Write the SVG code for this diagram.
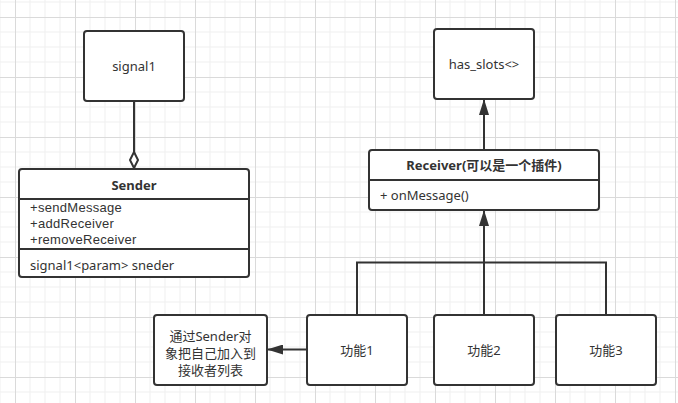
<svg xmlns="http://www.w3.org/2000/svg" width="678" height="403" viewBox="0 0 678 403">
<style>
.box{fill:#fff;stroke:#333;stroke-width:2}
.t{font-family:"Noto Sans","Noto Sans CJK SC",sans-serif;font-size:13px;fill:#333}
.f{font-family:"Liberation Sans","Noto Sans CJK SC",sans-serif;font-size:13px;fill:#333;letter-spacing:0.3px}
.c{text-anchor:middle}
.b{font-weight:bold}
.ln{fill:none;stroke:#333;stroke-width:2}
</style>
<defs>
<pattern id="grid" patternUnits="userSpaceOnUse" x="15" y="17" width="60" height="60">
<path d="M15 0V60M30 0V60M45 0V60M0 15H60M0 30H60M0 45H60" stroke="#efefef" stroke-width="1" fill="none"/>
<path d="M0.5 0V60M0 0.5H60" stroke="#dadada" stroke-width="1" fill="none"/>
</pattern>
<marker id="tri" viewBox="0 0 16 10" refX="15" refY="5" markerWidth="16" markerHeight="10" markerUnits="userSpaceOnUse" orient="auto">
<path d="M0 0L16 5L0 10Z" fill="#333"/>
</marker>
<marker id="dia" viewBox="0 0 18 10" refX="17" refY="5" markerWidth="18" markerHeight="10" markerUnits="userSpaceOnUse" orient="auto">
<path d="M1 5L9 1L17 5L9 9Z" fill="#fff" stroke="#333" stroke-width="2"/>
</marker>
</defs>
<rect width="678" height="403" fill="#fff"/>
<rect width="678" height="403" fill="url(#grid)"/>

<g id="connectors">
<path class="ln" d="M134 101V168" marker-end="url(#dia)"/>
<path class="ln" d="M484 150V100" marker-end="url(#tri)"/>
<path class="ln" d="M357 315V262.5H606V315"/>
<path class="ln" d="M484 315V211" marker-end="url(#tri)"/>
<path class="ln" d="M307 349.5H268" marker-end="url(#tri)"/>
</g>

<g id="signal1">
<rect class="box" x="84" y="31" width="100" height="70" rx="3"/>
<text class="t c" x="134" y="71">signal1</text>
</g>

<g id="sender">
<rect class="box" x="19" y="169" width="230" height="108" rx="3"/>
<path class="ln" d="M19 199H249M19 249H249"/>
<text class="t c b" x="134" y="189.5">Sender</text>
<text class="f" x="30" y="211.5">+sendMessage</text>
<text class="f" x="30" y="227.5">+addReceiver</text>
<text class="f" x="30" y="243.5">+removeReceiver</text>
<text class="t" x="30" y="269.5">signal1&lt;param&gt; sneder</text>
</g>

<g id="has_slots">
<rect class="box" x="434" y="29" width="100" height="70" rx="3"/>
<text class="t c" x="484" y="69">has_slots&lt;&gt;</text>
</g>

<g id="receiver">
<rect class="box" x="369" y="150" width="230" height="60" rx="3"/>
<path class="ln" d="M369 180H599"/>
<text class="t c b" x="484" y="170">Receiver(可以是一个插件)</text>
<text class="t" x="380" y="199.5">+ onMessage()</text>
</g>

<g id="note">
<rect class="box" x="154" y="315" width="113" height="70" rx="3"/>
<text class="t c" x="210.5" y="340.5">通过Sender对</text>
<text class="t c" x="210.5" y="357.5">象把自己加入到</text>
<text class="t c" x="210.5" y="374.5">接收者列表</text>
</g>

<g id="func1">
<rect class="box" x="307" y="315" width="100" height="70" rx="3"/>
<text class="t c" x="357" y="354.5">功能1</text>
</g>

<g id="func2">
<rect class="box" x="434" y="315" width="100" height="70" rx="3"/>
<text class="t c" x="484" y="354.5">功能2</text>
</g>

<g id="func3">
<rect class="box" x="556" y="315" width="100" height="70" rx="3"/>
<text class="t c" x="606" y="354.5">功能3</text>
</g>
</svg>
